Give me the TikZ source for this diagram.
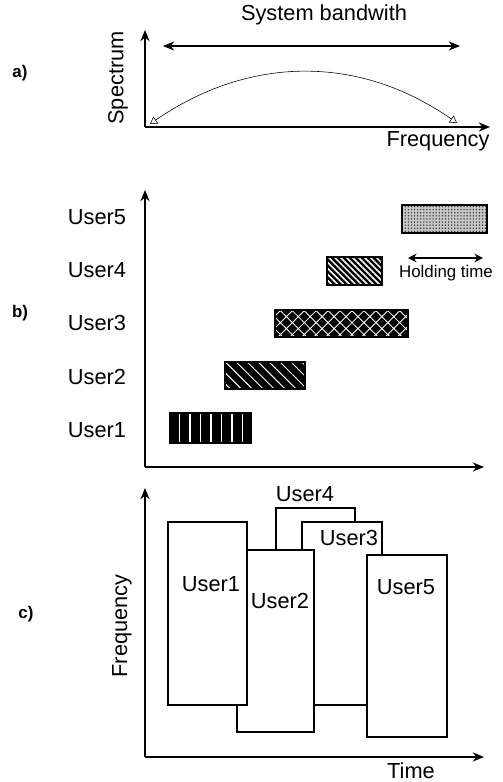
\documentclass[tikz,border=0pt]{standalone}
\usepackage{fontspec}
\setmainfont{Liberation Sans}
\usetikzlibrary{arrows.meta,patterns.meta,positioning}

\begin{document}
\begin{tikzpicture}[
  x=0.025cm, y=-0.025cm,
  >={Stealth[length=8pt,width=6.5pt]},
  axis/.style={->, line width=1.2pt},
  lbl/.style={font=\fontsize{15.5}{17}\selectfont, inner sep=0pt},
  small/.style={font=\fontsize{12}{14}\selectfont, inner sep=0pt},
  tag/.style={font=\bfseries\fontsize{12}{14}\selectfont, inner sep=0pt},
  ubar/.style={draw=black, line width=1pt, preaction={fill=black}, pattern color=white},
  slot/.style={draw=black, line width=1.3pt, fill=white}
]
\useasboundingbox (0,0) rectangle (502,782);

% --- a) spectrum ---
\node[tag] (ta) at (20,73) {a)};
\coordinate (ao) at (145,127);
\coordinate (ay) at (145,30);
\coordinate (ax) at (490,127);
\draw[axis] (ao) -- (ay);
\draw[axis] (ao) -- (ax);
\node[lbl, rotate=90] (spec) at (118,78) {Spectrum};
\node[lbl] (freqa) at (438,141) {Frequency};
\node[lbl] (band) at (324,15) {System bandwith};
\coordinate (bwl) at (163,46);
\coordinate (bwr) at (460,46);
\draw[<->, line width=1pt] (bwl) -- (bwr);
\coordinate (cl) at (150,124);
\coordinate (cr) at (457,123);
\draw[thin, {Triangle[open,length=5pt,width=6pt]}-{Triangle[open,length=5pt,width=6pt]}]
  (cl) .. controls (250,55) and (360,55) .. (cr);

% --- b) holding times ---
\node[tag] (tb) at (20,313) {b)};
\coordinate (bo) at (145,467);
\coordinate (by) at (145,190);
\coordinate (bx) at (484,467);
\draw[axis] (bo) -- (by);
\draw[axis] (bo) -- (bx);
\foreach \i/\y in {1/430,2/377,3/323,4/270,5/217}
  \node[lbl] (u\i) at (97,\y) {User\i};

\draw[ubar, pattern={Lines[angle=90,distance=7.5pt,line width=1pt]}]
  (170,413) rectangle (251,443);
\draw[ubar, pattern={Lines[angle=-45,distance=5.5pt,line width=0.7pt]}]
  (225,362) rectangle (305,389);
\draw[ubar, pattern={Hatch[angle=45,distance=6pt,line width=0.6pt]}]
  (275,310) rectangle (408,337);
\draw[ubar, pattern={Lines[angle=-45,distance=3pt,line width=1.1pt]}]
  (327,257) rectangle (382,285);
\draw[draw=black, line width=1.3pt, preaction={fill=gray!45},
      pattern={Dots[distance=2.2pt,radius=0.55pt]}, pattern color=black!80]
  (402,205) rectangle (487,233);

\coordinate (hl) at (408,258);
\coordinate (hr) at (483,258);
\draw[<->, line width=1pt, >={Stealth[length=6pt,width=6pt]}] (hl) -- (hr);
\node[small] (hold) at (446,273) {Holding time};

% --- c) time-frequency ---
\node[tag] (tc) at (26,614) {c)};
\coordinate (co) at (145,757);
\coordinate (cy) at (145,488);
\coordinate (cx) at (484,757);
\draw[axis] (co) -- (cy);
\draw[axis] (co) -- (cx);
\node[lbl, rotate=90] (freqc) at (122,626) {Frequency};
\node[lbl] (time) at (411,771) {Time};

% drawn back to front
\draw[slot] (276,508) rectangle (355,600);
\draw[slot] (302,522) rectangle (382,705);
\draw[slot] (237,550) rectangle (314,732);
\draw[slot] (168,522) rectangle (247,705);
\draw[slot] (367,555) rectangle (447,737);

\node[lbl] (c4) at (305,494) {User4};
\node[lbl] (c3) at (349,538) {User3};
\node[lbl] (c1) at (211,584) {User1};
\node[lbl] (c2) at (280,601) {User2};
\node[lbl] (c5) at (406,587) {User5};

\end{tikzpicture}
\end{document}
